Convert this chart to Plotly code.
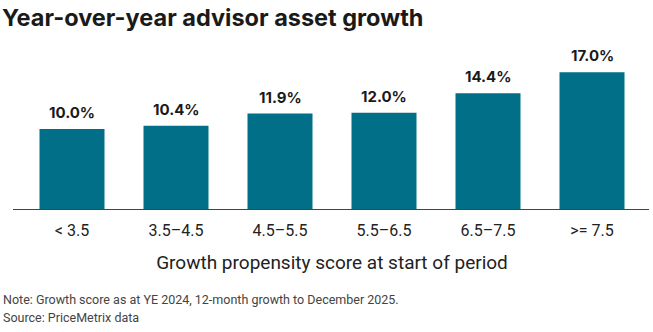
import plotly.graph_objects as go

categories = ["< 3.5", "3.5–4.5", "4.5–5.5", "5.5–6.5", "6.5–7.5", ">= 7.5"]
growth_pct = [10.0, 10.4, 11.9, 12.0, 14.4, 17.0]
value_labels = ["10.0%", "10.4%", "11.9%", "12.0%", "14.4%", "17.0%"]

title_text = "Year-over-year advisor asset growth"
xaxis_title = "Growth propensity score at start of period"
note_lines = [
    "Note: Growth score as at YE 2024, 12-month growth to December 2025.",
    "Source: PriceMetrix data",
]

BAR_COLOR = "#016f88"
TEXT_DARK = "#1a1a1a"

fig = go.Figure()
fig.add_trace(go.Bar(
    x=categories,
    y=growth_pct,
    marker=dict(color=BAR_COLOR, line=dict(width=0)),
    hoverinfo="skip",
))

for cat, val, lab in zip(categories, growth_pct, value_labels):
    fig.add_annotation(
        x=cat, y=val, xref="x", yref="y",
        text=lab, showarrow=False,
        yanchor="bottom", yshift=5,
        font=dict(family="Inter", size=15, color=TEXT_DARK, weight="bold"),
    )

fig.add_annotation(
    x=0, y=1, xref="paper", yref="paper", xanchor="left", yanchor="top",
    text=title_text, showarrow=False, xshift=-20, yshift=59,
    font=dict(family="Inter", size=23.5, color=TEXT_DARK, weight="bold"),
)

for i, line in enumerate(note_lines):
    fig.add_annotation(
        x=0, y=0, xref="paper", yref="paper", xanchor="left", yanchor="middle",
        align="left", text=line, showarrow=False, xshift=-19, yshift=-89 - 18 * i,
        font=dict(family="Roboto", size=12.5, color="#444444"),
    )

fig.update_layout(
    width=653, height=332,
    margin=dict(l=20, r=9, t=60, b=122),
    paper_bgcolor="white", plot_bgcolor="white",
    bargap=0.375,
    showlegend=False,
    xaxis=dict(
        showline=False, showgrid=False, zeroline=False,
        ticks="outside", ticklen=6, tickcolor="rgba(0,0,0,0)",
        tickfont=dict(family="Roboto", size=16, color="#222222"),
        title=dict(text=xaxis_title, standoff=16,
                   font=dict(family="Roboto", size=19, color="#222222")),
        fixedrange=True,
    ),
    yaxis=dict(
        range=[0, 150 / 8.1], visible=False, fixedrange=True,
    ),
    shapes=[dict(
        type="line", xref="paper", yref="y",
        x0=-7 / 624, x1=1 + 5 / 624, y0=0, y1=0,
        line=dict(color="#444444", width=2),
    )],
)

fig.write_html("out.html")
